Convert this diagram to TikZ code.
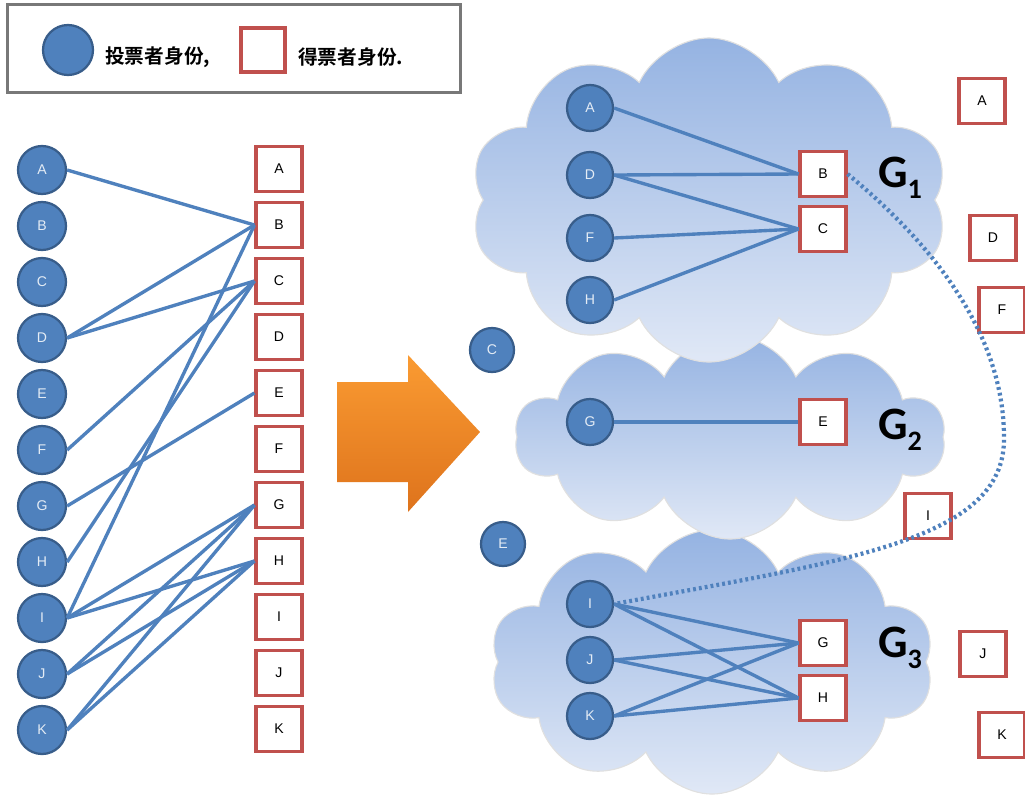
\documentclass[tikz,border=0pt]{standalone}
\usepackage{fontspec}
\setsansfont{Liberation Sans}
\newfontfamily\cjk[BoldFont={Noto Sans CJK SC Bold}]{Noto Sans CJK SC}
\newfontfamily\glabel{Carlito}
\usetikzlibrary{shapes.symbols}

\definecolor{votblue}{RGB}{79,129,189}
\definecolor{votedge}{RGB}{56,93,138}
\definecolor{candred}{RGB}{192,80,77}
\definecolor{cloudtop}{RGB}{149,179,226}
\definecolor{cloudbot}{RGB}{224,232,246}
\definecolor{arrtop}{RGB}{250,155,50}
\definecolor{arrbot}{RGB}{222,115,28}
\definecolor{boxgray}{RGB}{120,120,120}

\tikzset{
  voter/.style={circle, fill=votblue, draw=votedge, line width=1.6pt,
    minimum size=1.2cm, inner sep=0pt, text=white!85!votblue,
    font=\sffamily\fontsize{10}{12}\selectfont},
  cand/.style={rectangle, fill=white, draw=candred, line width=2.2pt,
    minimum width=1.15cm, minimum height=1.12cm, inner sep=0pt,
    font=\sffamily\fontsize{10}{12}\selectfont},
  edge/.style={votblue, line width=2.4pt},
  link/.style={votblue, line width=3pt, dash pattern=on 2pt off 2.2pt},
  bubble/.style={cloud, cloud puffs=10, cloud puff arc=130, cloud ignores aspect, inner sep=0pt,
    top color=cloudtop, bottom color=cloudbot, draw=black!12, line width=0.8pt},
  glab/.style={font=\glabel\bfseries\fontsize{33}{34}\selectfont, inner sep=0pt},
  legtext/.style={font=\cjk\bfseries\fontsize{14}{16}\selectfont, inner sep=0pt}
}

\newcommand{\gsub}[1]{G\raisebox{-8pt}{\fontsize{20}{21}\selectfont #1}}

\begin{document}
\begin{tikzpicture}[x=0.025cm, y=-0.025cm]
\useasboundingbox (0,0) rectangle (1025,798);

% legend
\node[draw=boxgray, line width=2.2pt, minimum width=11.3cm, minimum height=2.18cm, inner sep=0pt] (legend) at (234,48.5) {};
\node[voter, minimum size=1.25cm] (leg-vot) at (68,50) {};
\node[legtext, anchor=west] (leg-vtext) at (105,57) {投票者身份,};
\node[cand, minimum width=1.1cm, minimum height=1.1cm] (leg-cand) at (263,50) {};
\node[legtext, anchor=west] (leg-ctext) at (298,57) {得票者身份.};

% left: voters and candidates
\foreach \l [count=\i] in {A,B,C,D,E,F,G,H,I,J,K} {
  \node[voter] (lv-\l) at (42, 114+56*\i) {\l};
  \node[cand] (lc-\l) at (279, 113+56*\i) {\l};
}
\foreach \a/\b in {A/B, D/B, D/C, F/C, G/E, H/C, I/B, I/G, I/H, J/G, J/H, K/G, K/H}
  \draw[edge] (lv-\a.east) -- (lc-\b.west);

% arrow
\shade[top color=arrtop, bottom color=arrbot] (337,382) -- (408,382) -- (408,355) -- (480,432)
  -- (408,512) -- (408,482) -- (337,482) -- cycle;

% clouds
\node[bubble, minimum width=11.1cm, minimum height=6.6cm] (cloud-3) at (712,662) {};
\node[bubble, minimum width=10.75cm, minimum height=5.1cm] (cloud-2) at (730,437) {};
\node[bubble, minimum width=11.95cm, minimum height=8.1cm] (cloud-1) at (709,200) {};

% right: groups
\foreach \l/\y in {A/108, D/175, F/238, H/300, G/422, I/604, J/660, K/716}
  \node[voter, minimum size=1.15cm] (rv-\l) at (590,\y) {\l};
\foreach \l/\y in {B/174, C/229, E/422, G/643, H/698}
  \node[cand] (rc-\l) at (823,\y) {\l};
\node[voter, minimum size=1.1cm] (rv-C) at (492,350) {C};
\node[voter, minimum size=1.1cm] (rv-E) at (503,544) {E};
\foreach \l/\x/\y in {A/982/101, D/993/238, F/1002/310, I/928/516, J/983/654, K/1002/735}
  \node[cand] (rc-\l) at (\x,\y) {\l};

\foreach \a/\b in {A/B, D/B, D/C, F/C, H/C, G/E, I/G, I/H, J/G, J/H, K/G, K/H}
  \draw[edge] (rv-\a.east) -- (rc-\b.west);

\coordinate (bend) at (1004,440);
\draw[link] (rc-B.east) .. controls (940,250) and (1005,340) .. (bend)
  .. controls (1003,540) and (850,560) .. (rv-I.east);

\node[glab] (g-1) at (900,178) {\gsub{1}};
\node[glab] (g-2) at (900,430) {\gsub{2}};
\node[glab] (g-3) at (900,648) {\gsub{3}};
\end{tikzpicture}
\end{document}
